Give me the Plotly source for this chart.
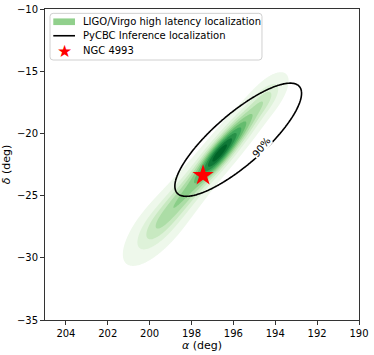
import numpy as np
import plotly.graph_objects as go

ligo_ra = [196.77, 195.70, 198.16, 199.54, 194.47]
ligo_dec = [-21.81, -19.65, -24.57, -27.34, -17.19]
ligo_sig_ra = [0.66, 0.72, 0.82, 0.82, 0.55]
ligo_sig_dec = [1.28, 1.40, 1.59, 1.56, 1.05]
ligo_rho = [-0.80, -0.81, -0.81, -0.72, -0.67]
ligo_amp = [0.75, 0.45, 0.35, 0.27, 0.2]

# PyCBC Inference posterior, gaussian fit
pycbc_ra = 195.77
pycbc_dec = -20.51
pycbc_sig_ra = 1.41
pycbc_sig_dec = 2.12
pycbc_rho = -0.82
pycbc_level = 0.9

# NGC 4993
ngc_ra = [197.45]
ngc_dec = [-23.38]

xticks = [204, 202, 200, 198, 196, 194, 192, 190]
yticks = [-35, -30, -25, -20, -15, -10]

legend_names = ['LIGO/Virgo high latency localization', 'PyCBC Inference localization', 'NGC 4993']
patch_color = 'rgb(145,208,140)'

# one colour per filled band (below first level ... above last level)
band_colors = ['rgb(255,255,255)', 'rgb(238,248,235)', 'rgb(222,242,217)', 'rgb(200,233,193)',
               'rgb(172,221,166)', 'rgb(138,206,136)', 'rgb(100,188,110)', 'rgb(65,170,93)',
               'rgb(40,145,72)', 'rgb(15,120,55)', 'rgb(0,100,40)']


def mahal2(ra, dec, mra, mdec, sra, sdec, rho):
    u = (ra - mra) / sra
    v = (dec - mdec) / sdec
    return (u * u - 2 * rho * u * v + v * v) / (1 - rho * rho)


ra = np.linspace(190, 205, 301)
dec = np.linspace(-35, -10, 501)
RA, DEC = np.meshgrid(ra, dec)

dens = np.zeros_like(RA)
for i in range(len(ligo_ra)):
    dens += ligo_amp[i] * np.exp(-0.5 * mahal2(RA, DEC, ligo_ra[i], ligo_dec[i],
                                               ligo_sig_ra[i], ligo_sig_dec[i], ligo_rho[i]))
dens = dens / dens.max()

# enclosed probability of a 2d gaussian
cred = 1 - np.exp(-0.5 * mahal2(RA, DEC, pycbc_ra, pycbc_dec, pycbc_sig_ra, pycbc_sig_dec, pycbc_rho))

n = len(band_colors) - 1
greens = [[k / n, c] for k, c in enumerate(band_colors)]

fig = go.Figure()
fig.add_trace(go.Contour(
    x=ra, y=dec, z=dens,
    colorscale=greens,
    contours=dict(start=0.03, end=0.93, size=0.1, coloring='fill'),
    line=dict(width=0),
    showscale=False, showlegend=False,
    name=legend_names[0], hoverinfo='skip',
))
fig.add_trace(go.Contour(
    x=ra, y=dec, z=cred,
    contours=dict(start=pycbc_level, end=pycbc_level, size=0.1, coloring='none'),
    line=dict(width=1.6, color='black'),
    showscale=False, showlegend=False,
    name=legend_names[1], hoverinfo='skip',
))
fig.add_trace(go.Scatter(
    x=ngc_ra, y=ngc_dec, mode='markers',
    marker=dict(symbol='star', size=16, color='red', line=dict(width=0)),
    name=legend_names[2], showlegend=False,
))

# contour label
fig.add_annotation(x=194.68, y=-21.1, text='90%', showarrow=False, textangle=-52,
                   font=dict(size=10, color='black'), bgcolor='white', borderpad=0)

# matplotlib-like legend box (paper coords)
x0, x1, y0, y1, r = 0.016, 0.691, 0.836, 0.986, 0.01
fig.add_shape(
    type='path', xref='paper', yref='paper',
    path=(f'M {x0 + r},{y0} L {x1 - r},{y0} Q {x1},{y0} {x1},{y0 + r} '
          f'L {x1},{y1 - r} Q {x1},{y1} {x1 - r},{y1} L {x0 + r},{y1} '
          f'Q {x0},{y1} {x0},{y1 - r} L {x0},{y0 + r} Q {x0},{y0} {x0 + r},{y0} Z'),
    fillcolor='rgba(255,255,255,0.8)', line=dict(color='#d0d0d0', width=1),
)
row_y = [0.959, 0.914, 0.866]
fig.add_shape(type='rect', xref='paper', yref='paper', x0=0.0264, x1=0.0955,
              y0=row_y[0] - 0.0107, y1=row_y[0] + 0.0107,
              fillcolor=patch_color, line=dict(width=0))
fig.add_shape(type='line', xref='paper', yref='paper', x0=0.0264, x1=0.0955,
              y0=row_y[1], y1=row_y[1], line=dict(color='black', width=1.6))
fig.add_annotation(xref='paper', yref='paper', x=0.061, y=row_y[2], text='★', showarrow=False,
                   font=dict(size=17, color='red'), xanchor='center', yanchor='middle')
for name, yy in zip(legend_names, row_y):
    fig.add_annotation(xref='paper', yref='paper', x=0.115, y=yy, text=name, showarrow=False,
                       xanchor='left', yanchor='middle', font=dict(size=10, color='black'))

axis_style = dict(
    showline=True, mirror=True, linecolor='#333', linewidth=1,
    ticks='outside', ticklen=4, tickcolor='#333',
    showgrid=False, zeroline=False, automargin=False,
    tickfont=dict(size=10, color='black'),
)
fig.update_layout(
    width=374, height=355,
    margin=dict(l=45, r=15, t=9, b=35),
    paper_bgcolor='white', plot_bgcolor='white',
    font=dict(family='DejaVu Sans', color='black'),
    showlegend=False,
    xaxis=dict(range=[205, 190], tickvals=xticks, title=dict(text='<i>α</i> (deg)', font=dict(size=11), standoff=2), **axis_style),
    yaxis=dict(range=[-35, -10], tickvals=yticks, title=dict(text='<i>δ</i> (deg)', font=dict(size=11), standoff=4), **axis_style),
)

# drop the page's default body margin so the figure sits at the window's corner
fig.write_html("out.html", config={'displayModeBar': False},
               post_script="document.body.style.margin='0';")
